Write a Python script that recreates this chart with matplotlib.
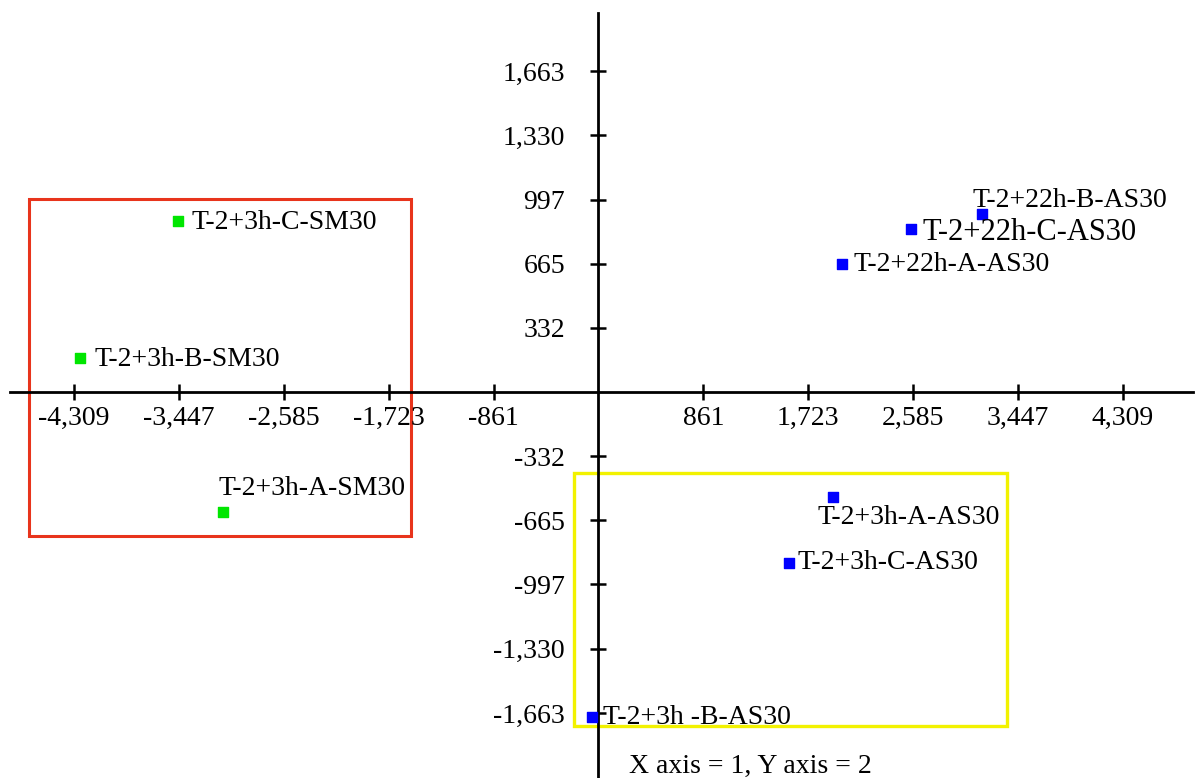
import matplotlib
matplotlib.use("Agg")
import matplotlib.pyplot as plt
from matplotlib.patches import Rectangle

# --- data ---
sm_labels = ["T-2+3h-A-SM30", "T-2+3h-B-SM30", "T-2+3h-C-SM30"]
sm_x = [-3082, -4259, -3452]
sm_y = [-620, 175, 888]

as_labels = ["T-2+3h-A-AS30", "T-2+3h -B-AS30", "T-2+3h-C-AS30",
             "T-2+22h-A-AS30", "T-2+22h-B-AS30", "T-2+22h-C-AS30"]
as_x = [1924, -51, 1562, 2003, 3148, 2567]
as_y = [-542, -1682, -888, 662, 922, 845]

x_ticks = [-4309, -3447, -2585, -1723, -861, 861, 1723, 2585, 3447, 4309]
y_ticks = [-1663, -1330, -997, -665, -332, 332, 665, 997, 1330, 1663]

# group boxes (x0, y0, x1, y1)
red_box = [-4678, -746, -1540, 1000]
yellow_box = [-199, -1730, 3353, -421]

# label placement: (dx px, baseline dy px downward, fontsize)
label_style = {
    "T-2+3h-A-SM30": (-5, -17, 20),
    "T-2+3h-B-SM30": (15, 8, 20),
    "T-2+3h-C-SM30": (13, 8, 20),
    "T-2+3h-A-AS30": (-15, 27, 20),
    "T-2+3h -B-AS30": (11, 7, 20),
    "T-2+3h-C-AS30": (9, 6, 20),
    "T-2+22h-A-AS30": (11, 7, 20),
    "T-2+22h-B-AS30": (-9, -7, 20),
    "T-2+22h-C-AS30": (12, 11, 22),
}

plt.rcParams["font.family"] = ["Liberation Serif", "DejaVu Serif"]

W, H = 1196, 778
fig = plt.figure(figsize=(W / 100, H / 100), dpi=100)
ax = fig.add_axes([10 / W, 0, (1193 - 10) / W, (H - 13) / H])
ax.set_xlim(-4834, 4884)
ax.set_ylim(-2000, 1964)

for side in ["top", "right"]:
    ax.spines[side].set_visible(False)
for side in ["left", "bottom"]:
    ax.spines[side].set_position(("data", 0))
    ax.spines[side].set_linewidth(2)
    ax.spines[side].set_color("black")

ax.set_xticks(x_ticks)
ax.set_xticklabels([f"{v:,}" for v in x_ticks])
ax.set_yticks(y_ticks)
ax.set_yticklabels([f"{v:,}" for v in y_ticks])
ax.tick_params(axis="both", direction="inout", length=12, width=1.8,
               labelsize=20, colors="black")
ax.tick_params(axis="x", pad=4)
ax.tick_params(axis="y", pad=18)

ax.add_patch(Rectangle((red_box[0], red_box[1]), red_box[2] - red_box[0],
                       red_box[3] - red_box[1], fill=False,
                       edgecolor="#e8341c", linewidth=2.2, zorder=1))
ax.add_patch(Rectangle((yellow_box[0], yellow_box[1]), yellow_box[2] - yellow_box[0],
                       yellow_box[3] - yellow_box[1], fill=False,
                       edgecolor="#f2f200", linewidth=2.4, zorder=1))

ax.scatter(sm_x, sm_y, marker="s", s=52, color="#00e600", zorder=3, clip_on=False)
ax.scatter(as_x, as_y, marker="s", s=56, color="#0000ff", zorder=3, clip_on=False)

for lab, x, y in list(zip(sm_labels, sm_x, sm_y)) + list(zip(as_labels, as_x, as_y)):
    dx, dy, fs = label_style[lab]
    ax.annotate(lab, (x, y), xytext=(dx * 0.72, -dy * 0.72),
                textcoords="offset points", ha="left", va="baseline",
                fontsize=fs, color="black", zorder=4)

fig.text(629 / W, 1 - 773 / H, "X axis = 1, Y axis = 2", fontsize=20,
         ha="left", va="baseline")

fig.savefig("out.png", dpi=100, facecolor="white")
